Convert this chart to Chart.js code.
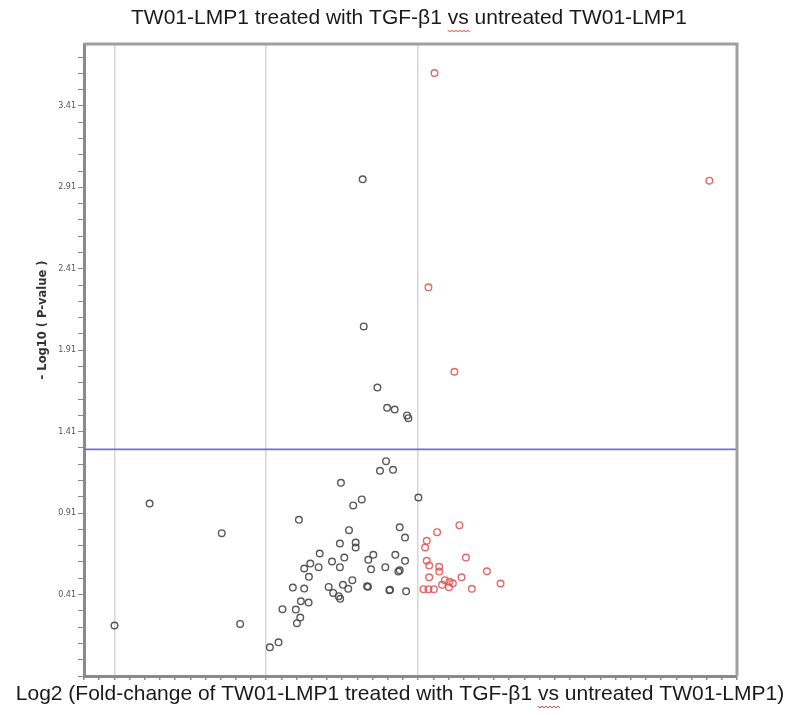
<!DOCTYPE html>
<html>
<head>
<meta charset="utf-8">
<script src="https://cdn.jsdelivr.net/npm/chart.js@4.4.0/dist/chart.umd.min.js"></script>
<style>
body { margin: 0; background: #fff; }
</style>
</head>
<body>
<canvas id="volcano" width="796" height="715"></canvas>
<script>
// values: log2 fold change (x) and -log10 p (y)
var otherX = [-0.365, -0.358, -0.268, -0.204, -0.154, -0.073, -0.064,
    -1.768, -1.293, -1.999, -1.172, -0.976, -0.919,
    -0.211, -0.251, -0.165, -0.508, -0.371, -0.427, 0.002, -0.785, -0.455, -0.121,
    -0.086, -0.515, -0.411, -0.411, -0.648, -0.486, -0.295, -0.328, -0.150, -0.086,
    -0.567, -0.710, -0.750, -0.655, -0.515, -0.310, -0.216, -0.121, -0.130, -0.719,
    -0.433, -0.825, -0.750, -0.589, -0.495, -0.460, -0.559, -0.523, -0.513, -0.336,
    -0.330, -0.189, -0.185, -0.079, -0.772, -0.721, -0.893, -0.805, -0.776, -0.798];
var otherY = [2.959, 2.056, 1.681, 1.557, 1.546, 1.510, 1.493,
    0.969, 0.787, 0.220, 0.230, 0.086, 0.117,
    1.229, 1.170, 1.176, 1.096, 0.994, 0.957, 1.006, 0.869, 0.805, 0.823,
    0.760, 0.723, 0.729, 0.699, 0.662, 0.637, 0.654, 0.623, 0.654, 0.617,
    0.613, 0.600, 0.570, 0.578, 0.578, 0.565, 0.578, 0.559, 0.551, 0.519,
    0.498, 0.453, 0.447, 0.457, 0.470, 0.445, 0.420, 0.400, 0.384, 0.461,
    0.458, 0.436, 0.440, 0.430, 0.369, 0.361, 0.320, 0.318, 0.269, 0.234];

var upX = [0.108, 0.068, 0.239, 1.918,
    0.272, 0.125, 0.057, 0.046, 0.315, 0.057, 0.073, 0.139, 0.139, 0.453,
    0.286, 0.073, 0.543, 0.176, 0.206, 0.229, 0.158, 0.203, 0.035, 0.068, 0.104, 0.354];
var upY = [3.612, 2.296, 1.778, 2.951,
    0.836, 0.793, 0.740, 0.699, 0.637, 0.617, 0.588, 0.580, 0.551, 0.553,
    0.516, 0.516, 0.478, 0.498, 0.488, 0.479, 0.470, 0.455, 0.443, 0.443, 0.443, 0.445];

var pThreshold = 1.301;   // -log10(0.05)
var xMin = -2.2, xMax = 2.1;
var yMin = -0.09, yMax = 3.79;
var xGridValues = [-2, -1, 0];
var yTickLabels = ['0.41', '0.91', '1.41', '1.91', '2.41', '2.91', '3.41'];

var titleText = 'TW01-LMP1 treated with TGF-\u03b21 vs untreated TW01-LMP1';
var xLabelText = 'Log2 (Fold-change of TW01-LMP1 treated with TGF-\u03b21 vs untreated TW01-LMP1)';
var yLabelText = '- Log10 ( P-value )';

function toPoints(xs, ys) {
    var pts = [];
    for (var i = 0; i < xs.length; i++) {
        pts.push({x: xs[i], y: ys[i]});
    }
    return pts;
}

function stepTicks(scale, from, to) {
    var ticks = [];
    var n = Math.floor((to - from) / 0.1 + 1e-6);
    for (var i = 0; i <= n; i++) {
        ticks.push({value: Math.round((from + i * 0.1) * 100) / 100});
    }
    scale.ticks = ticks;
}

// the red spell-check squiggle under "vs"
function squiggle(ctx, text, cx, y) {
    var full = ctx.measureText(text).width;
    var idx = text.indexOf(' vs ') + 1;
    var x0 = cx - full / 2 + ctx.measureText(text.slice(0, idx)).width;
    var w = ctx.measureText('vs').width;
    ctx.save();
    ctx.strokeStyle = '#d04040';
    ctx.lineWidth = 1;
    ctx.beginPath();
    ctx.moveTo(x0, y);
    for (var x = x0, k = 0; x < x0 + w; x += 2, k++) {
        ctx.lineTo(x + 2, y + (k % 2 === 0 ? 2 : 0));
    }
    ctx.stroke();
    ctx.restore();
}

// frame on top/right + text labels
var decorations = {
    id: 'decorations',
    afterDraw: function(chart) {
        var ctx = chart.ctx;
        var a = chart.chartArea;
        ctx.save();
        ctx.strokeStyle = '#a0a0a0';
        ctx.lineWidth = 3;
        ctx.beginPath();
        ctx.moveTo(a.left, a.top);
        ctx.lineTo(a.right, a.top);
        ctx.lineTo(a.right, a.bottom);
        ctx.stroke();

        ctx.fillStyle = '#1a1a1a';
        ctx.textAlign = 'center';
        ctx.textBaseline = 'middle';
        ctx.font = '21px "Liberation Sans", Arial, sans-serif';
        ctx.fillText(titleText, 409, 18);
        squiggle(ctx, titleText, 409, 30);
        ctx.fillText(xLabelText, 400, 694);
        squiggle(ctx, xLabelText, 400, 706);

        ctx.translate(43, 320);
        ctx.rotate(-Math.PI / 2);
        ctx.font = 'bold 11.5px "DejaVu Sans", sans-serif';
        ctx.fillStyle = '#333';
        ctx.fillText(yLabelText, 0, 0);
        ctx.restore();
    }
};

var ctx = document.getElementById('volcano').getContext('2d');
var chart = new Chart(ctx, {
    type: 'scatter',
    data: {
        datasets: [{
            label: 'not changed',
            data: toPoints(otherX, otherY),
            borderColor: 'rgba(70,70,70,0.9)',
            backgroundColor: 'rgba(0,0,0,0)',
            pointRadius: 3.3,
            borderWidth: 1.4
        }, {
            label: 'up',
            data: toPoints(upX, upY),
            borderColor: 'rgba(226,86,86,0.9)',
            backgroundColor: 'rgba(0,0,0,0)',
            pointRadius: 3.3,
            borderWidth: 1.4
        }, {
            type: 'line',
            label: 'p = 0.05',
            data: [{x: xMin, y: pThreshold}, {x: xMax, y: pThreshold}],
            borderColor: '#7070d4',
            borderWidth: 1.6,
            pointRadius: 0,
            fill: false
        }]
    },
    options: {
        responsive: false,
        animation: false,
        layout: {padding: {top: 44, right: 59, left: 0, bottom: 0}},
        plugins: {
            legend: {display: false},
            tooltip: {enabled: false}
        },
        scales: {
            x: {
                type: 'linear',
                min: xMin,
                max: xMax,
                afterBuildTicks: function(scale) { stepTicks(scale, xMin, xMax); },
                afterFit: function(scale) { scale.height = 39; },
                ticks: {autoSkip: false, callback: function() { return ''; }},
                grid: {
                    color: function(c) {
                        var v = c.tick ? c.tick.value : null;
                        for (var i = 0; i < xGridValues.length; i++) {
                            if (Math.abs(xGridValues[i] - v) < 1e-6) return '#d6d6d6';
                        }
                        return 'rgba(0,0,0,0)';
                    },
                    lineWidth: 1.5,
                    tickColor: '#8a8a8a',
                    tickLength: 4
                },
                border: {color: '#8a8a8a', width: 3}
            },
            y: {
                type: 'linear',
                min: yMin,
                max: yMax,
                afterBuildTicks: function(scale) { stepTicks(scale, yMin, yMax); },
                afterFit: function(scale) { scale.width = 84; },
                ticks: {
                    autoSkip: false,
                    padding: 2,
                    color: '#555',
                    font: {size: 8, family: '"DejaVu Sans", sans-serif'},
                    callback: function(value) {
                        var s = Number(value).toFixed(2);
                        return yTickLabels.indexOf(s) >= 0 ? s : '';
                    }
                },
                grid: {
                    color: 'rgba(0,0,0,0)',
                    tickColor: '#8a8a8a',
                    tickLength: 6
                },
                border: {color: '#8a8a8a', width: 3}
            }
        }
    },
    plugins: [decorations]
});
</script>
</body>
</html>
